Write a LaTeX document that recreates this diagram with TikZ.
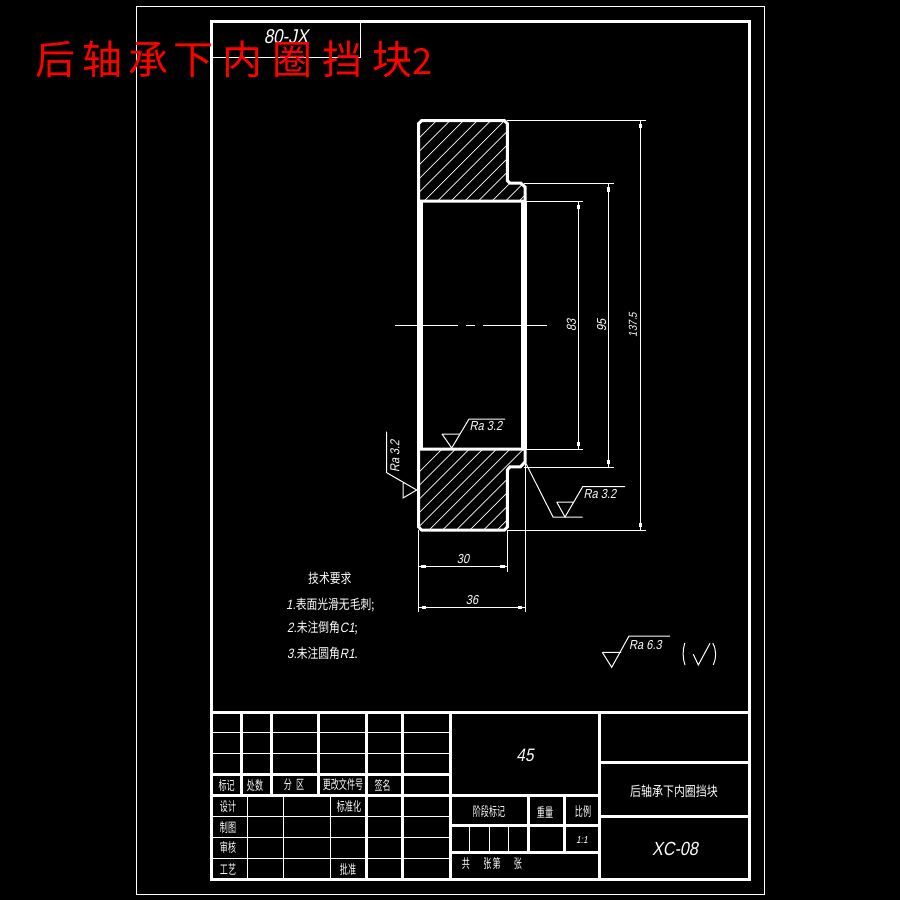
\documentclass[tikz,border=0pt]{standalone}
\usepackage{fontspec}
\newfontfamily\cnf[FakeStretch=0.8]{Noto Sans CJK SC}
\newfontfamily\cnn[FakeStretch=0.62]{Noto Sans CJK SC}
\newfontfamily\cnr{Noto Sans CJK SC}
\newfontfamily\ltf[FakeStretch=0.85,FakeSlant=0.2]{Liberation Sans}
\newcommand{\tk}[2]{\fill[white] (#1-1.6,#2-2.2) rectangle (#1+1.6,#2+2.2);}
\newcommand{\tkh}[2]{\fill[white] (#1-2.2,#2-1.6) rectangle (#1+2.2,#2+1.6);}
\tikzset{
  thk/.style={white,line width=3pt},
  thn/.style={white,line width=1pt},
  hat/.style={white,line width=.7pt},
  txt/.style={white,inner sep=0pt,font=\fontsize{13}{13}\cnn},
  tech/.style={white,inner sep=0pt,anchor=west,font=\fontsize{13.5}{14}\cnf},
  dimt/.style={white,inner sep=0pt,font=\fontsize{13}{13}\ltf},
}
\begin{document}
\begin{tikzpicture}[x=1pt,y=-1pt]
\useasboundingbox (0,0) rectangle (900,900);
\fill[black] (0,0) rectangle (900,900);
% frames
\draw[thn] (136.5,6) rectangle (764,894);
\draw[thk] (211,21) rectangle (749,879.5);
\draw[thn] (211,57) -- (360.5,57) -- (360.5,21);
\node[dimt,font=\fontsize{20}{20}\ltf] (stamp) at (286,37) {80-JX};
% hatching
\begin{scope}
\clip (419,122) -- (505,122) -- (506,124) -- (506,183) -- (509,184.5) -- (521,184.5) -- (524,187) -- (524,200) -- (419,200) -- cycle;
\foreach \k in {-2,...,14} \draw[hat] ({557+13.6*\k-120},120) -- ++(-100,100);
\end{scope}
\begin{scope}
\clip (419,450) -- (524,450) -- (524,462) -- (520,466) -- (508,466) -- (506,469) -- (506,529) -- (419,529) -- cycle;
\foreach \k in {-2,...,14} \draw[hat] ({918.3+13.6*\k-449},449) -- ++(-100,100);
\end{scope}
% outline
\draw[thk] (418.7,201) -- (418.7,123.5) -- (421.5,120.7) -- (504.5,120.7) -- (507.3,123.5) -- (507.3,180.5) -- (510,183.2) -- (521,183.2) -- (525,187) -- (525,201) -- cycle;
\draw[thk] (418.7,449) -- (525,449) -- (525,462) -- (520.5,466.8) -- (510,466.8) -- (507.3,470) -- (507.3,527) -- (504.5,530) -- (421.5,530) -- (418.7,527) -- cycle;
\draw[white,line width=5.5pt] (420,201) -- (420,449);
\draw[white,line width=5.5pt] (524,201) -- (524,449);
% centre line
\draw[thn] (395,325) -- (457.7,325);
\draw[thn] (466,325) -- (475,325);
\draw[thn] (483,325) -- (546.7,325);
% vertical dimensions
\draw[thn] (507,120.5) -- (646,120.5);
\draw[thn] (507,530) -- (646,530);
\draw[thn] (640.7,120.5) -- (640.7,530);
\tk{640.7}{125.7} \tk{640.7}{525}
\draw[thn] (524,183.3) -- (614,183.3);
\draw[thn] (524,467) -- (614,467);
\draw[thn] (608.7,183.3) -- (608.7,467);
\tk{608.7}{189.3} \tk{608.7}{461.7}
\draw[thn] (526,201) -- (583,201);
\draw[thn] (526,449) -- (583,449);
\draw[thn] (578.2,201) -- (578.2,449);
\tk{578.2}{206.7} \tk{578.2}{444}
\node[dimt,rotate=90] (d83) at (571.5,325) {83};
\node[dimt,rotate=90] (d95) at (601.7,325) {95};
\node[dimt,rotate=90,font=\fontsize{11.5}{11.5}\ltf] (d137) at (633,325) {137.5};
% horizontal dimensions
\draw[thn] (418.5,530) -- (418.5,611.7);
\draw[thn] (507.3,530) -- (507.3,571.7);
\draw[thn] (525.5,462) -- (525.5,612);
\draw[thn] (418.5,566.7) -- (507.3,566.7);
\draw[thn] (418.5,607.3) -- (525.5,607.3);
\tkh{423.3}{566.7} \tkh{502.3}{566.7}
\tkh{424}{607.3} \tkh{520}{607.3}
\node[dimt] (d30) at (463,559.5) {30};
\node[dimt] (d36) at (472,600) {36};
% roughness marks
\draw[thn] (442,434) -- (460,434) (451.7,448) -- (442,434);
\draw[thn] (451.7,448) -- (469,419) -- (505,419);
\node[dimt] (ra1) at (486,426.5) {Ra 3.2};
\draw[thn] (525.7,463) -- (553,517) -- (582.7,517);
\draw[thn] (556.7,502) -- (574,502) (556.7,502) -- (565,517) -- (582.7,486.7) -- (625,486.7);
\node[dimt] (ra2) at (600,494.5) {Ra 3.2};
\draw[thn] (386.7,431.7) -- (386.7,472.7) -- (416.7,490) -- (403,498) -- (403,483);
\node[dimt,rotate=90] (ra3) at (395,456.5) {Ra 3.2};
\draw[thn] (602.3,652.3) -- (621,652.3) (602.3,652.3) -- (611.7,667.3) -- (629,636) -- (670,636);
\node[dimt] (ra4) at (645.5,645) {Ra 6.3};
\draw[thn] (684.8,643) .. controls (682.5,650) and (682.5,658) .. (685,665);
\draw[thn] (693.3,654.3) -- (698.3,665) -- (710,643.3);
\draw[thn] (712.7,643) .. controls (716.5,650) and (716.5,658) .. (713.3,665);
% technical requirements
\node[tech] (t0) at (308,578) {技术要求};
\node[tech] (t1) at (286,605) {{\ltf 1.}表面光滑无毛刺;};
\node[tech] (t2) at (287,628) {{\ltf 2.}未注倒角{\ltf C1};};
\node[tech] (t3) at (287,653) {{\ltf 3.}未注圆角{\ltf R1}.};
% title block: left part
\draw[thk] (211,712.3) -- (749,712.3);
\foreach \x in {241.3,271.3,318.7} \draw[thk] (\x,712.3) -- (\x,795.7);
\foreach \x in {366.7,402.3,450.3,599.3} \draw[thk] (\x,712.3) -- (\x,879.5);
\draw[thn] (211,732.3) -- (450,732.3);
\draw[thn] (211,753.3) -- (450,753.3);
\draw[thk] (211,774.3) -- (450,774.3);
\draw[thk] (211,795.7) -- (599,795.7);
\foreach \y in {816.3,837.3,858.3} \draw[thn] (211,\y) -- (450,\y);
\foreach \x in {247.7,283.3,330.3} \draw[thn] (\x,795.7) -- (\x,879.5);
% title block: middle and right
\draw[thk] (599.3,762.3) -- (749,762.3);
\draw[thk] (599.3,816.3) -- (749,816.3);
\draw[thk] (450.3,825.3) -- (599.3,825.3);
\draw[thk] (450.3,852.3) -- (599.3,852.3);
\foreach \x in {528.3,564.3} \draw[thk] (\x,795.7) -- (\x,852.3);
\foreach \x in {469.3,489.3,508.7} \draw[thn] (\x,825.3) -- (\x,852.3);
% title block: text
\node[txt] (c1) at (226.7,786) {标记};
\node[txt] (c2) at (255,786) {处数};
\node[txt] (c3) at (294,785) {分\hspace{4pt}区};
\node[txt] (c4) at (343,785) {更改文件号};
\node[txt] (c5) at (382.7,786) {签名};
\node[txt] (c6) at (228,806.7) {设计};
\node[txt] (c7) at (349,806.7) {标准化};
\node[txt] (c8) at (228,828) {制图};
\node[txt] (c9) at (228,848) {审核};
\node[txt] (c10) at (228,869) {工艺};
\node[txt] (c11) at (348,870) {批准};
\node[dimt,font=\fontsize{18}{18}\ltf] (mat) at (525,755) {45};
\node[txt,font=\fontsize{13.7}{15}\cnf] (name) at (674,791) {后轴承下内圈挡块};
\node[txt] (c12) at (489,812) {阶段标记};
\node[txt] (c13) at (545,812) {重量};
\node[txt] (c14) at (583,812) {比例};
\node[dimt,font=\fontsize{10}{10}\ltf] (ratio) at (582,840) {1:1};
\node[txt] (c15) at (466,864) {共};
\node[txt] (c16) at (492,864) {张\hspace{1pt}第};
\node[txt] (c17) at (518,864) {张};
\node[dimt,font=\fontsize{19}{19}\ltf] (code) at (675,849) {XC-08};
% red overlay title
\node[red,inner sep=0pt,anchor=west,font=\fontsize{40}{40}\cnr] (big) at (35,59) {后\hspace{7pt}轴\hspace{6pt}承\hspace{5pt}下\hspace{9pt}内\hspace{10pt}圈\hspace{10pt}挡\hspace{10pt}块\fontsize{36}{36}\selectfont 2};
\end{tikzpicture}
\end{document}
